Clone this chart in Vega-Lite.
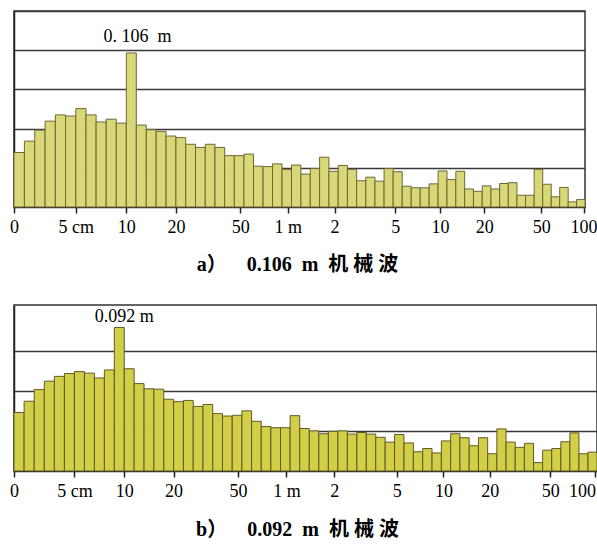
{
  "$schema": "https://vega.github.io/schema/vega-lite/v6.json",
  "padding": {"left": 8, "top": 10, "right": 0, "bottom": 0},
  "spacing": 28,
  "config": {
    "view": {"stroke": "#333333", "strokeWidth": 1.5},
    "font": "Liberation Serif"
  },
  "datasets": {
    "bins": [
      {"lo": 0.021764, "hi": 0.025, "a": 1.39, "b": 1.46},
      {"lo": 0.025, "hi": 0.028717, "a": 1.68, "b": 1.74},
      {"lo": 0.028717, "hi": 0.032988, "a": 1.96, "b": 2.03},
      {"lo": 0.032988, "hi": 0.037893, "a": 2.19, "b": 2.24},
      {"lo": 0.037893, "hi": 0.043528, "a": 2.35, "b": 2.36},
      {"lo": 0.043528, "hi": 0.05, "a": 2.32, "b": 2.43},
      {"lo": 0.05, "hi": 0.057435, "a": 2.51, "b": 2.48},
      {"lo": 0.057435, "hi": 0.065975, "a": 2.35, "b": 2.44},
      {"lo": 0.065975, "hi": 0.075786, "a": 2.17, "b": 2.32},
      {"lo": 0.075786, "hi": 0.087055, "a": 2.24, "b": 2.52},
      {"lo": 0.087055, "hi": 0.1, "a": 2.14, "b": 3.58},
      {"lo": 0.1, "hi": 0.11487, "a": 3.93, "b": 2.55},
      {"lo": 0.11487, "hi": 0.13195, "a": 2.09, "b": 2.18},
      {"lo": 0.13195, "hi": 0.15157, "a": 1.97, "b": 2.05},
      {"lo": 0.15157, "hi": 0.17411, "a": 1.93, "b": 2.04},
      {"lo": 0.17411, "hi": 0.2, "a": 1.81, "b": 1.79},
      {"lo": 0.2, "hi": 0.22974, "a": 1.77, "b": 1.73},
      {"lo": 0.22974, "hi": 0.2639, "a": 1.60, "b": 1.76},
      {"lo": 0.2639, "hi": 0.30314, "a": 1.52, "b": 1.61},
      {"lo": 0.30314, "hi": 0.34822, "a": 1.60, "b": 1.66},
      {"lo": 0.34822, "hi": 0.4, "a": 1.52, "b": 1.43},
      {"lo": 0.4, "hi": 0.45948, "a": 1.31, "b": 1.37},
      {"lo": 0.45948, "hi": 0.5278, "a": 1.31, "b": 1.39},
      {"lo": 0.5278, "hi": 0.60629, "a": 1.35, "b": 1.50},
      {"lo": 0.60629, "hi": 0.69644, "a": 1.04, "b": 1.24},
      {"lo": 0.69644, "hi": 0.8, "a": 1.03, "b": 1.11},
      {"lo": 0.8, "hi": 0.91896, "a": 1.10, "b": 1.08},
      {"lo": 0.91896, "hi": 1.0556, "a": 0.96, "b": 1.08},
      {"lo": 1.0556, "hi": 1.2126, "a": 1.07, "b": 1.38},
      {"lo": 1.2126, "hi": 1.3929, "a": 0.84, "b": 1.06},
      {"lo": 1.3929, "hi": 1.6, "a": 0.98, "b": 1.00},
      {"lo": 1.6, "hi": 1.8379, "a": 1.27, "b": 0.93},
      {"lo": 1.8379, "hi": 2.1112, "a": 0.91, "b": 0.99},
      {"lo": 2.1112, "hi": 2.4251, "a": 1.06, "b": 1.00},
      {"lo": 2.4251, "hi": 2.7858, "a": 0.96, "b": 0.92},
      {"lo": 2.7858, "hi": 3.2, "a": 0.67, "b": 0.96},
      {"lo": 3.2, "hi": 3.6758, "a": 0.76, "b": 0.92},
      {"lo": 3.6758, "hi": 4.2224, "a": 0.66, "b": 0.84},
      {"lo": 4.2224, "hi": 4.8503, "a": 0.98, "b": 0.72},
      {"lo": 4.8503, "hi": 5.5715, "a": 0.90, "b": 0.91},
      {"lo": 5.5715, "hi": 6.4, "a": 0.53, "b": 0.70},
      {"lo": 6.4, "hi": 7.3517, "a": 0.49, "b": 0.48},
      {"lo": 7.3517, "hi": 8.4449, "a": 0.49, "b": 0.56},
      {"lo": 8.4449, "hi": 9.7006, "a": 0.59, "b": 0.45},
      {"lo": 9.7006, "hi": 11.143, "a": 0.92, "b": 0.75},
      {"lo": 11.143, "hi": 12.8, "a": 0.70, "b": 0.93},
      {"lo": 12.8, "hi": 14.703, "a": 0.91, "b": 0.83},
      {"lo": 14.703, "hi": 16.89, "a": 0.46, "b": 0.63},
      {"lo": 16.89, "hi": 19.401, "a": 0.40, "b": 0.83},
      {"lo": 19.401, "hi": 22.286, "a": 0.54, "b": 0.43},
      {"lo": 22.286, "hi": 25.6, "a": 0.46, "b": 1.05},
      {"lo": 25.6, "hi": 29.407, "a": 0.60, "b": 0.72},
      {"lo": 29.407, "hi": 33.779, "a": 0.62, "b": 0.59},
      {"lo": 33.779, "hi": 38.802, "a": 0.30, "b": 0.69},
      {"lo": 38.802, "hi": 44.572, "a": 0.30, "b": 0.21},
      {"lo": 44.572, "hi": 51.2, "a": 0.96, "b": 0.52},
      {"lo": 51.2, "hi": 58.813, "a": 0.58, "b": 0.56},
      {"lo": 58.813, "hi": 67.559, "a": 0.26, "b": 0.73},
      {"lo": 67.559, "hi": 77.604, "a": 0.50, "b": 0.95},
      {"lo": 77.604, "hi": 89.144, "a": 0.13, "b": 0.43},
      {"lo": 89.144, "hi": 102.4, "a": 0.19, "b": 0.47}
    ]
  },
  "vconcat": [
    {
      "width": 571,
      "height": 196,
      "title": {
        "text": "a）\u00a0\u00a0\u00a0\u00a00.106\u00a0\u00a0m\u00a0\u00a0机\u00a0械\u00a0波",
        "orient": "bottom",
        "anchor": "middle",
        "offset": 19,
        "dx": -2,
        "font": "Liberation Serif, Noto Sans CJK SC",
        "fontSize": 20,
        "fontWeight": "bold",
        "color": "#000000"
      },
      "layer": [
        {
          "data": {"name": "bins"},
          "mark": {"type": "bar", "fill": "#d9d878", "stroke": "#6e6637", "strokeWidth": 1},
          "encoding": {
            "x": {
              "field": "lo",
              "type": "quantitative",
              "scale": {"type": "pow", "exponent": -0.0256, "domain": [0.021764, 102.4], "zero": false, "nice": false},
              "axis": {
                "values": [0.021764, 0.05, 0.1, 0.2, 0.5, 1, 2, 5, 10, 20, 50, 100],
                "labelExpr": "datum.value < 0.03 ? '0' : datum.value < 0.06 ? '5 cm' : datum.value < 1 ? '' + round(datum.value * 100) : datum.value == 1 ? '1 m' : '' + round(datum.value)",
                "title": null,
                "grid": false,
                "labelOverlap": false,
                "labelFlush": false,
                "labelBound": false,
                "tickSize": 6,
                "tickColor": "#222222",
                "tickWidth": 1.5,
                "domainColor": "#222222",
                "domainWidth": 1.5,
                "labelFont": "Liberation Serif",
                "labelFontSize": 18,
                "labelColor": "#000000",
                "labelPadding": 5
              }
            },
            "x2": {"field": "hi"},
            "y": {
              "field": "a",
              "type": "quantitative",
              "scale": {"domain": [0, 5], "nice": false},
              "axis": {
                "values": [1, 2, 3, 4, 5],
                "grid": true,
                "gridColor": "#3a3a3a",
                "gridWidth": 1.5,
                "labels": false,
                "ticks": false,
                "domain": true,
                "domainColor": "#222222",
                "domainWidth": 1.5,
                "title": null
              }
            },
            "y2": {"datum": 0}
          }
        },
        {
          "data": {"values": [{"w": 0.106, "v": 3.93, "t": "0.\u00a0106\u00a0\u00a0m"}]},
          "mark": {"type": "text", "dx": 7, "dy": -16, "fontSize": 18, "font": "Liberation Serif", "color": "#000000"},
          "encoding": {
            "x": {"field": "w", "type": "quantitative", "scale": {"type": "pow", "exponent": -0.0256, "domain": [0.021764, 102.4], "zero": false, "nice": false}},
            "y": {"field": "v", "type": "quantitative", "scale": {"domain": [0, 5], "nice": false}},
            "text": {"field": "t"}
          }
        }
      ]
    },
    {
      "width": 583,
      "height": 166,
      "title": {
        "text": "b）\u00a0\u00a0\u00a0\u00a00.092\u00a0\u00a0m\u00a0\u00a0机\u00a0械\u00a0波",
        "orient": "bottom",
        "anchor": "middle",
        "offset": 20,
        "dx": -8,
        "font": "Liberation Serif, Noto Sans CJK SC",
        "fontSize": 20,
        "fontWeight": "bold",
        "color": "#000000"
      },
      "layer": [
        {
          "data": {"name": "bins"},
          "mark": {"type": "bar", "fill": "#d2ce48", "stroke": "#5e5a28", "strokeWidth": 1},
          "encoding": {
            "x": {
              "field": "lo",
              "type": "quantitative",
              "scale": {"type": "pow", "exponent": -0.0139, "domain": [0.021764, 102.4], "zero": false, "nice": false},
              "axis": {
                "values": [0.021764, 0.05, 0.1, 0.2, 0.5, 1, 2, 5, 10, 20, 50, 100],
                "labelExpr": "datum.value < 0.03 ? '0' : datum.value < 0.06 ? '5 cm' : datum.value < 1 ? '' + round(datum.value * 100) : datum.value == 1 ? '1 m' : '' + round(datum.value)",
                "labelAlign": {"condition": {"test": "datum.value >= 100", "value": "right"}, "value": "center"},
                "title": null,
                "grid": false,
                "labelOverlap": false,
                "labelFlush": false,
                "labelBound": false,
                "tickSize": 6,
                "tickColor": "#222222",
                "tickWidth": 1.5,
                "domainColor": "#222222",
                "domainWidth": 1.5,
                "labelFont": "Liberation Serif",
                "labelFontSize": 18,
                "labelColor": "#000000",
                "labelPadding": 5
              }
            },
            "x2": {"field": "hi"},
            "y": {
              "field": "b",
              "type": "quantitative",
              "scale": {"domain": [0, 4.14], "nice": false},
              "axis": {
                "values": [1, 2, 3],
                "grid": true,
                "gridColor": "#3a3a3a",
                "gridWidth": 1.5,
                "labels": false,
                "ticks": false,
                "domain": true,
                "domainColor": "#222222",
                "domainWidth": 1.5,
                "title": null
              }
            },
            "y2": {"datum": 0}
          }
        },
        {
          "data": {"values": [{"w": 0.092, "v": 3.58, "t": "0.092\u00a0m"}]},
          "mark": {"type": "text", "dx": 6, "dy": -10, "fontSize": 18, "font": "Liberation Serif", "color": "#000000"},
          "encoding": {
            "x": {"field": "w", "type": "quantitative", "scale": {"type": "pow", "exponent": -0.0139, "domain": [0.021764, 102.4], "zero": false, "nice": false}},
            "y": {"field": "v", "type": "quantitative", "scale": {"domain": [0, 4.14], "nice": false}},
            "text": {"field": "t"}
          }
        }
      ]
    }
  ]
}
